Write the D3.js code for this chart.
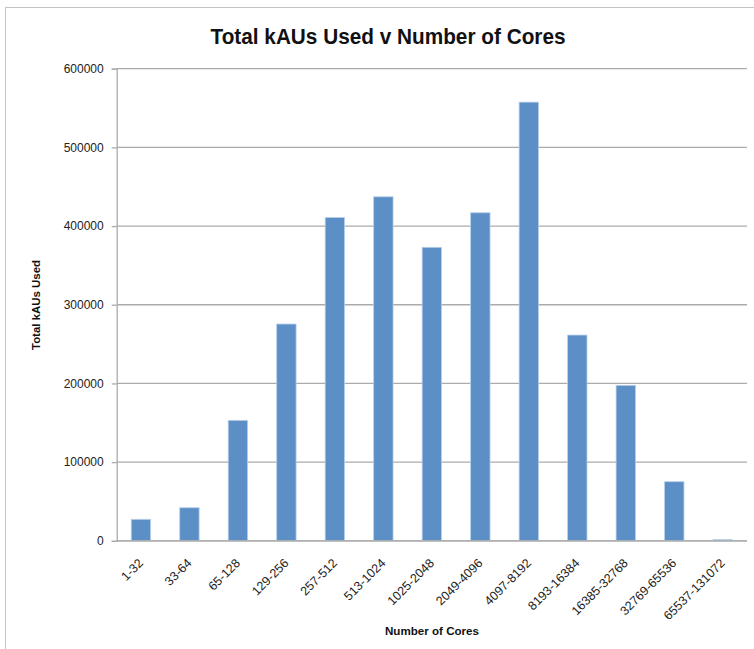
<!DOCTYPE html>
<html>
<head>
<meta charset="utf-8">
<script src="https://cdn.jsdelivr.net/npm/d3@7/dist/d3.min.js"></script>
<style>
  html, body { margin: 0; padding: 0; background: #fff; }
  svg { display: block; }
</style>
</head>
<body>
<svg id="chart" width="754" height="649"></svg>
<script>
// Core-count buckets and total kAUs consumed in each
const categories = ["1-32", "33-64", "65-128", "129-256", "257-512", "513-1024",
  "1025-2048", "2049-4096", "4097-8192", "8193-16384", "16385-32768",
  "32769-65536", "65537-131072"];
const kausUsed = [27300, 42000, 153100, 275500, 411000, 437200,
  373000, 416900, 557500, 261500, 197600, 75100, 1500];
const yTicks = [0, 100000, 200000, 300000, 400000, 500000, 600000];

const svg = d3.select("#chart");
const font = "'Liberation Sans', Arial, sans-serif";
const margin = { left: 116.7, right: 7, top: 68.7, bottom: 108.2 };
const W = 754, H = 649;

// chart frame
svg.append("rect")
  .attr("x", 5.5).attr("y", 7.5)
  .attr("width", 900).attr("height", 900)
  .attr("fill", "none").attr("stroke", "#c4c4c4").attr("stroke-width", 1);

const x = d3.scaleBand()
  .domain(categories)
  .range([margin.left, W - margin.right])
  .paddingInner(0.6).paddingOuter(0.3);

const y = d3.scaleLinear()
  .domain([0, 600000])
  .range([H - margin.bottom, margin.top]);

// horizontal gridlines
svg.append("g")
  .selectAll("line")
  .data(yTicks)
  .join("line")
  .attr("x1", margin.left).attr("x2", W - margin.right)
  .attr("y1", d => y(d)).attr("y2", d => y(d))
  .attr("stroke", "#ababab").attr("stroke-width", 1.3);

// y axis
const yAxis = svg.append("g")
  .attr("transform", `translate(${margin.left},0)`)
  .call(d3.axisLeft(y).tickValues(yTicks).tickSize(5).tickPadding(8).tickFormat(d3.format("d")));
yAxis.select(".domain").attr("stroke", "#ababab").attr("stroke-width", 1.3);
yAxis.selectAll(".tick line").attr("stroke", "#ababab").attr("stroke-width", 1.3);
yAxis.selectAll(".tick text")
  .attr("font-family", font).attr("font-size", 12).attr("fill", "#222");

// bars
svg.append("g")
  .selectAll("rect")
  .data(categories.map((c, i) => ({ c, v: kausUsed[i] })))
  .join("rect")
  .attr("x", d => x(d.c))
  .attr("width", x.bandwidth())
  .attr("y", d => y(d.v))
  .attr("height", d => y(0) - y(d.v))
  .attr("fill", "#5b8fc6")
  .attr("stroke", "#b8d0ea").attr("stroke-width", 0.8);

// baseline
svg.append("line")
  .attr("x1", margin.left).attr("x2", W - margin.right)
  .attr("y1", y(0)).attr("y2", y(0))
  .attr("stroke", "#ababab").attr("stroke-width", 1.3);

// category labels, rotated
svg.append("g")
  .selectAll("text")
  .data(categories)
  .join("text")
  .attr("transform", d => `translate(${x(d) + x.bandwidth() / 2 + 3},${y(0) + 23}) rotate(-45)`)
  .attr("text-anchor", "end")
  .attr("font-family", font).attr("font-size", 12.5).attr("fill", "#222")
  .text(d => d);

// title
svg.append("text")
  .attr("x", 388).attr("y", 44)
  .attr("text-anchor", "middle")
  .attr("font-family", font).attr("font-weight", "bold").attr("font-size", 22)
  .attr("textLength", 355).attr("lengthAdjust", "spacingAndGlyphs")
  .attr("fill", "#111")
  .text("Total kAUs Used v Number of Cores");

// axis titles
svg.append("text")
  .attr("x", 432).attr("y", 635)
  .attr("text-anchor", "middle")
  .attr("font-family", font).attr("font-weight", "bold").attr("font-size", 11.5)
  .attr("textLength", 94).attr("lengthAdjust", "spacingAndGlyphs")
  .attr("fill", "#111")
  .text("Number of Cores");

svg.append("text")
  .attr("transform", "translate(40,305) rotate(-90)")
  .attr("text-anchor", "middle")
  .attr("font-family", font).attr("font-weight", "bold").attr("font-size", 11.5)
  .attr("textLength", 90).attr("lengthAdjust", "spacingAndGlyphs")
  .attr("fill", "#111")
  .text("Total kAUs  Used");
</script>
</body>
</html>
